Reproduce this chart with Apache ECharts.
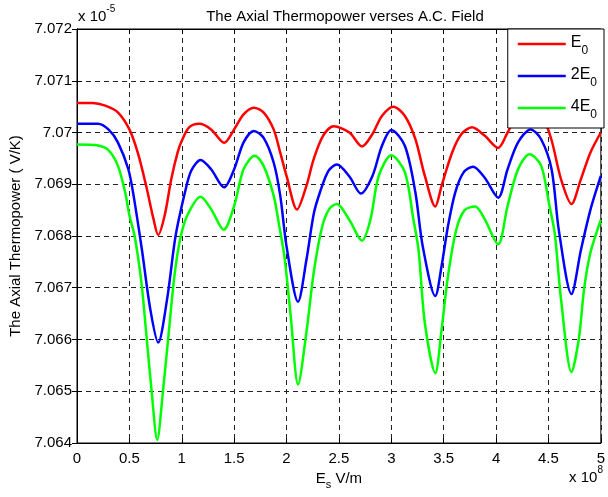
<!DOCTYPE html>
<html><head><meta charset="utf-8">
<script src="https://cdn.jsdelivr.net/npm/echarts@6/dist/echarts.min.js"></script>
<style>html,body{margin:0;padding:0;background:#fff}#c{width:608px;height:497px}</style>
</head><body><div id="c"></div>
<script>
const xTicks = [0, 0.5, 1, 1.5, 2, 2.5, 3, 3.5, 4, 4.5, 5];
const yTicks = [7.064, 7.065, 7.066, 7.067, 7.068, 7.069, 7.07, 7.071, 7.072];
const seriesNames = ['E0', '2E0', '4E0'];

const redX = [0,0.15,0.27,0.39,0.5,0.58,0.66,0.73,0.775,0.836,0.9,0.96,1.0,1.07,1.167,1.28,1.404,1.5,1.59,1.688,1.78,1.877,1.94,2.0,2.1,2.19,2.26,2.35,2.45,2.6,2.72,2.82,2.91,3.02,3.13,3.23,3.32,3.42,3.48,3.58,3.67,3.77,3.89,4.02,4.11,4.2,4.33,4.45,4.53,4.62,4.72,4.81,4.9,5.0];
const redY = [7.07057,7.07057,7.07052,7.07039,7.07006,7.06961,7.06897,7.06833,7.06802,7.06839,7.0691,7.06961,7.06984,7.0701,7.07017,7.07006,7.0698,7.07006,7.07035,7.07048,7.07039,7.07006,7.06961,7.06916,7.06851,7.06897,7.06949,7.06994,7.07012,7.07,7.06973,7.06997,7.07032,7.0705,7.07032,7.06987,7.06916,7.06857,7.06897,7.06961,7.06997,7.0701,7.06994,7.0697,7.07,7.07032,7.07052,7.07028,7.06985,7.0691,7.06862,7.0691,7.06961,7.07];

const blueX = [0,0.2,0.3,0.39,0.49,0.54,0.62,0.7,0.775,0.86,0.94,1.03,1.09,1.18,1.28,1.404,1.5,1.59,1.688,1.78,1.877,1.94,2.0,2.11,2.19,2.26,2.32,2.4,2.48,2.6,2.71,2.82,2.91,3.0,3.13,3.23,3.3,3.42,3.48,3.54,3.61,3.69,3.78,3.89,4.02,4.11,4.21,4.33,4.43,4.53,4.6,4.72,4.81,4.9,5.0];
const blueY = [7.07017,7.07017,7.07006,7.06981,7.06929,7.06878,7.06773,7.06658,7.06594,7.06678,7.06799,7.06884,7.06926,7.06947,7.06929,7.06894,7.06929,7.06981,7.07003,7.0699,7.06942,7.06878,7.0678,7.06673,7.06754,7.06843,7.06885,7.06926,7.06938,7.06915,7.06882,7.06916,7.06974,7.07005,7.06974,7.06884,7.0678,7.06684,7.06742,7.06818,7.06884,7.06923,7.06934,7.06913,7.06874,7.06929,7.06981,7.07006,7.06987,7.06929,7.0681,7.06688,7.06773,7.0685,7.06916];

const greenX = [0,0.2,0.3,0.39,0.46,0.5,0.55,0.615,0.66,0.71,0.766,0.82,0.87,0.93,0.99,1.06,1.18,1.28,1.4,1.5,1.59,1.697,1.78,1.877,1.93,1.98,2.04,2.11,2.19,2.26,2.34,2.41,2.48,2.6,2.72,2.8,2.88,3.0,3.13,3.21,3.26,3.32,3.42,3.48,3.54,3.62,3.7,3.8,3.89,4.02,4.11,4.21,4.32,4.43,4.51,4.56,4.62,4.72,4.79,4.84,4.9,5.0];
const greenY = [7.06977,7.06975,7.06966,7.06936,7.06884,7.0684,7.068,7.0671,7.06614,7.06505,7.06406,7.06499,7.06601,7.06723,7.06799,7.06843,7.06876,7.06852,7.06812,7.06858,7.06929,7.06955,7.06936,7.06878,7.0682,7.0676,7.06645,7.06513,7.06614,7.0673,7.06818,7.06853,7.06862,7.06831,7.06791,7.06831,7.06916,7.06956,7.06923,7.06833,7.06773,7.06632,7.06535,7.06619,7.06721,7.06812,7.0685,7.06857,7.06833,7.06784,7.06858,7.06929,7.06958,7.06936,7.06858,7.06805,7.06678,7.06537,7.06601,7.06697,7.06767,7.06831];

const FONT = "'Liberation Sans', Arial, sans-serif";
const FS = 15;
const pair = (xs, ys) => xs.map((x, i) => [x, ys[i]]);
const fmtY = v => String(parseFloat(Number(v).toFixed(3)));
const fmtX = v => String(parseFloat(Number(v).toFixed(1)));
const legendFmt = n => '{m|' + n.slice(0, -1) + '}{s|' + n.slice(-1) + '}';

const chart = echarts.init(document.getElementById('c'), null, {renderer: 'canvas'});
const dashed = {show: true, lineStyle: {color: '#222', width: 1, type: [5, 4]}};
const baseX = {type: 'value', min: xTicks[0], max: xTicks[xTicks.length - 1], interval: 0.5};
const baseY = {type: 'value', min: yTicks[0], max: yTicks[yTicks.length - 1], interval: 0.001};
const supRich = {
  m: {fontFamily: FONT, fontSize: FS, lineHeight: 22, verticalAlign: 'top', padding: [5, 0, 0, 0], fill: '#000'},
  p: {fontFamily: FONT, fontSize: 10, lineHeight: 12, verticalAlign: 'top', fill: '#000'}
};

chart.setOption({
  animation: false,
  backgroundColor: '#fff',
  textStyle: {fontFamily: FONT},
  title: {
    text: 'The Axial Thermopower verses A.C. Field',
    left: 340, top: 4, textAlign: 'center',
    textStyle: {fontFamily: FONT, fontSize: FS, fontWeight: 'normal', color: '#000'}
  },
  grid: {left: 77, right: 4, top: 29, bottom: 54, show: true, borderColor: '#000', borderWidth: 1},
  legend: {
    data: seriesNames, orient: 'vertical', right: 4, top: 29,
    icon: 'rect', itemWidth: 48, itemHeight: 2.5, itemGap: 10,
    padding: [6, 7, 7, 10],
    backgroundColor: '#fff', borderColor: '#000', borderWidth: 1, borderRadius: 0,
    formatter: legendFmt,
    textStyle: {
      fontFamily: FONT, color: '#000',
      rich: {
        m: {fontFamily: FONT, fontSize: 16, lineHeight: 18, verticalAlign: 'top', color: '#000'},
        s: {fontFamily: FONT, fontSize: 12, lineHeight: 12, padding: [10, 0, 0, 0], verticalAlign: 'top', color: '#000'}
      }
    }
  },
  xAxis: [
    Object.assign({}, baseX, {
      position: 'bottom',
      name: '{m|E}{s|s}{m| V/m}', nameLocation: 'middle', nameGap: 18,
      nameTextStyle: {rich: {
        m: {fontFamily: FONT, fontSize: FS, lineHeight: 17, verticalAlign: 'top', color: '#000'},
        s: {fontFamily: FONT, fontSize: 11, lineHeight: 11, padding: [9, 0, 0, 0], verticalAlign: 'top', color: '#000'}
      }},
      axisLine: {show: true, lineStyle: {color: '#000', width: 1}},
      axisTick: {show: true, inside: true, length: 5, lineStyle: {color: '#000'}},
      axisLabel: {color: '#000', fontFamily: FONT, fontSize: FS, margin: 8, formatter: fmtX},
      splitLine: dashed
    }),
    Object.assign({}, baseX, {
      position: 'top',
      axisLine: {show: true, lineStyle: {color: '#000', width: 1}},
      axisTick: {show: true, inside: true, length: 5, lineStyle: {color: '#000'}},
      axisLabel: {show: false}, splitLine: {show: false}
    })
  ],
  yAxis: [
    Object.assign({}, baseY, {
      position: 'left',
      name: 'The Axial Thermopower ( V/K)', nameLocation: 'middle', nameGap: 53,
      nameTextStyle: {fontFamily: FONT, fontSize: FS, color: '#000'},
      axisLine: {show: true, lineStyle: {color: '#000', width: 1}},
      axisTick: {show: true, inside: true, length: 5, lineStyle: {color: '#000'}},
      axisLabel: {color: '#000', fontFamily: FONT, fontSize: FS, margin: 5, formatter: fmtY},
      splitLine: dashed
    }),
    Object.assign({}, baseY, {
      position: 'right',
      axisLine: {show: true, lineStyle: {color: '#000', width: 1}},
      axisTick: {show: true, inside: true, length: 5, lineStyle: {color: '#000'}},
      axisLabel: {show: false}, splitLine: {show: false}
    })
  ],
  graphic: [
    {type: 'text', left: 78, top: 4, style: {text: '{m|x 10}{p|-5}', fontFamily: FONT, rich: supRich}},
    {type: 'text', right: 5, top: 465, style: {text: '{m|x 10}{p|8}', fontFamily: FONT, rich: supRich}}
  ],
  series: [
    {name: seriesNames[0], type: 'line', data: pair(redX, redY), color: '#ff0000'},
    {name: seriesNames[1], type: 'line', data: pair(blueX, blueY), color: '#0000ff'},
    {name: seriesNames[2], type: 'line', data: pair(greenX, greenY), color: '#00ff00'}
  ].map(s => Object.assign(s, {showSymbol: false, smooth: 0.3, lineStyle: {width: 2.5, color: s.color}, itemStyle: {color: s.color}, z: 2}))
});
</script>
</body></html>
